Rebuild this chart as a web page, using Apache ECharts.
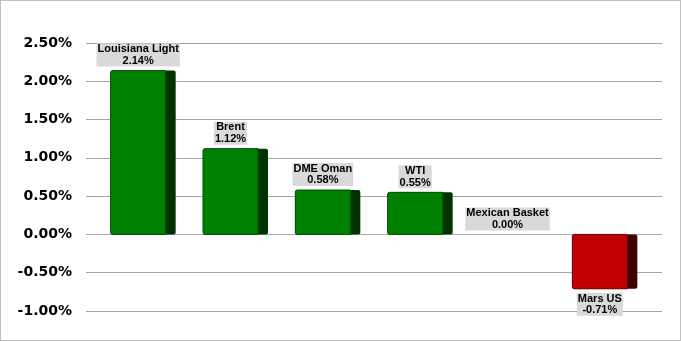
<!DOCTYPE html>
<html><head><meta charset="utf-8">
<script src="https://cdn.jsdelivr.net/npm/echarts@6/dist/echarts.min.js"></script>
<style>
html,body{margin:0;padding:0;background:#fff;}
#c{width:681px;height:341px;box-sizing:border-box;border:1px solid #BFBFBF;}
</style></head>
<body><div id="c"></div>
<script>
var categories = ['Louisiana Light','Brent','DME Oman','WTI','Mexican Basket','Mars US'];
var values = [2.14, 1.12, 0.58, 0.55, 0.00, -0.71];
var yTicks = {min: -1, max: 2.5, interval: 0.5};

var chart = echarts.init(document.getElementById('c'), null, {renderer: 'canvas'});
var TOP = 42, BOTTOM = 29;

function renderBar(params, api) {
  var i = api.value(0), v = api.value(1);
  var p = api.coord([i, v]);
  var z = api.coord([i, 0]);
  var cx = p[0];
  var left = cx - 32.5, frontW = 55, sideW = 10;
  var pos = v >= 0;
  var top = Math.min(p[1], z[1]), h = Math.abs(z[1] - p[1]);
  var children = [];
  if (h > 0.5) {
    children.push({
      type: 'rect',
      shape: {x: left, y: top, width: frontW + sideW, height: h, r: 2},
      style: {fill: pos ? '#003300' : '#3F0000'}
    });
    children.push({
      type: 'rect',
      shape: {x: left, y: top, width: frontW, height: h, r: [2, 0, 0, 2]},
      style: {fill: pos ? '#008000' : '#C00000', stroke: pos ? '#005200' : '#7A0000', lineWidth: 1}
    });
  }
  var label = categories[i] + '\n' + v.toFixed(2) + '%';
  var fcx = left + frontW / 2;
  children.push({
    type: 'text',
    style: {
      text: label,
      x: fcx,
      y: pos ? top - 4 : top + h + 4,
      align: 'center',
      verticalAlign: pos ? 'bottom' : 'top',
      font: 'bold 11px "Liberation Sans", Arial, sans-serif',
      fill: '#000',
      lineHeight: 11.5,
      backgroundColor: '#D9D9D9',
      padding: [0, 1, 0, 1]
    }
  });
  return {type: 'group', children: children};
}

chart.setOption({
  animation: false,
  grid: [
    {left: 85, right: 18, top: TOP, bottom: BOTTOM},
    {left: 96, right: 29, top: TOP, bottom: BOTTOM}
  ],
  xAxis: [
    {type: 'category', gridIndex: 0, data: categories, show: false},
    {type: 'category', gridIndex: 1, data: categories, show: false, boundaryGap: true}
  ],
  yAxis: [
    {type: 'value', gridIndex: 0, min: yTicks.min, max: yTicks.max, interval: yTicks.interval,
     axisLine: {show: false}, axisTick: {show: false},
     splitLine: {lineStyle: {color: '#A6A6A6', width: 1}},
     axisLabel: {margin: 14, color: '#000', fontFamily: '"DejaVu Sans", Verdana, sans-serif', fontWeight: 'bold', fontSize: 14,
       formatter: function (v) { return v.toFixed(2) + '%'; }}},
    {type: 'value', gridIndex: 1, min: yTicks.min, max: yTicks.max, interval: yTicks.interval, show: false}
  ],
  series: [{
    type: 'custom',
    xAxisIndex: 1, yAxisIndex: 1,
    renderItem: renderBar,
    data: values.map(function (v, i) { return [i, v]; }),
    clip: false
  }]
});
</script></body></html>
